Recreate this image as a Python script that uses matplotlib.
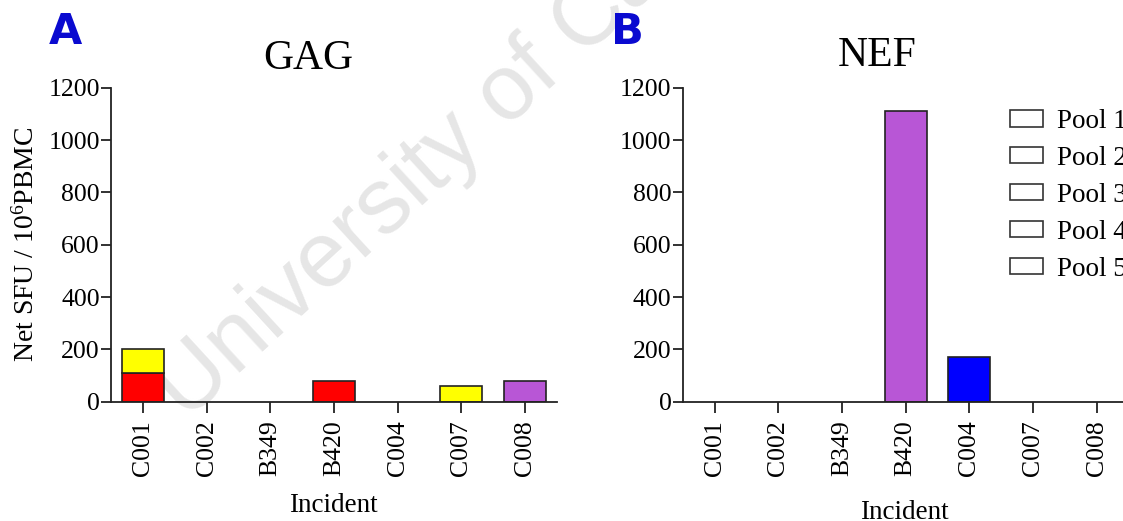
import numpy as np
from matplotlib import pyplot as plt
from matplotlib.patches import Patch

plt.rcParams['font.family'] = ['Liberation Serif', 'DejaVu Serif']
plt.rcParams['mathtext.default'] = 'regular'

incidents = ['C001', 'C002', 'B349', 'B420', 'C004', 'C007', 'C008']
pools = ['Pool 1', 'Pool 2', 'Pool 3', 'Pool 4', 'Pool 5']
pool_colors = ['#ff0000', '#00b050', '#ffff00', '#0000ff', '#b856d6']

# net SFU per 10^6 PBMC, one list per peptide pool
gag_pool1 = [110, 0, 0, 80, 0, 0, 0]
gag_pool2 = [0, 0, 0, 0, 0, 0, 0]
gag_pool3 = [90, 0, 0, 0, 0, 60, 0]
gag_pool4 = [0, 0, 0, 0, 0, 0, 0]
gag_pool5 = [0, 0, 0, 0, 0, 0, 80]

nef_pool1 = [0, 0, 0, 0, 0, 0, 0]
nef_pool2 = [0, 0, 0, 0, 0, 0, 0]
nef_pool3 = [0, 0, 0, 0, 0, 0, 0]
nef_pool4 = [0, 0, 0, 0, 170, 0, 0]
nef_pool5 = [0, 0, 0, 1110, 0, 0, 0]

gag = [gag_pool1, gag_pool2, gag_pool3, gag_pool4, gag_pool5]
nef = [nef_pool1, nef_pool2, nef_pool3, nef_pool4, nef_pool5]

W, H = 1123, 521
fig = plt.figure(figsize=(W / 100, H / 100), dpi=100)

# faint watermark, drawn underneath the axes
fig.text(186 / W, 1 - 422 / H, 'University of Cape Town', family='Liberation Sans',
         fontsize=67, color='#e6e6e6', rotation=42.5, rotation_mode='anchor',
         ha='left', va='baseline', zorder=-1)


def stacked(ax, series):
    x = np.arange(len(incidents))
    bottom = np.zeros(len(incidents))
    for vals, col in zip(series, pool_colors):
        vals = np.array(vals, dtype=float)
        m = vals > 0
        ax.bar(x[m], vals[m], bottom=bottom[m], width=0.66, color=col,
               edgecolor='#222222', linewidth=1.2, zorder=3)
        bottom += vals
    ax.set_xlim(-0.5, 6.5)
    ax.set_ylim(0, 1200)
    ax.set_yticks(range(0, 1201, 200))
    ax.set_xticks(x)
    ax.set_xticklabels(incidents, rotation=90)
    ax.spines['top'].set_visible(False)
    ax.spines['right'].set_visible(False)
    for s in ['left', 'bottom']:
        ax.spines[s].set_linewidth(1.3)
        ax.spines[s].set_color('#222222')
    ax.spines['bottom'].set_zorder(4)
    ax.tick_params(axis='y', direction='out', length=7, width=1.3, pad=1,
                   labelsize=18.5, color='#222222')
    ax.tick_params(axis='x', direction='out', length=8, width=1.3, pad=5,
                   labelsize=18.5, color='#222222')
    ax.patch.set_alpha(0)


axA = fig.add_axes([111 / W, 1 - 401.7 / H, 446 / W, 314 / H])
stacked(axA, gag)
axA.set_ylabel('Net SFU / 10$^{6}$PBMC', fontsize=20)
axA.yaxis.set_label_coords(-0.16, 0.5)
axA.set_xlabel('Incident', fontsize=19.5)
axA.xaxis.set_label_coords(0.498, -0.29)

axB = fig.add_axes([682.7 / W, 1 - 401.7 / H, 446 / W, 314 / H])
stacked(axB, nef)
axB.set_xlabel('Incident', fontsize=19.5)
axB.xaxis.set_label_coords(0.496, -0.313)

fig.text(308 / W, 1 - 59 / H, 'GAG', fontsize=30, ha='center', va='center')
fig.text(877 / W, 1 - 56 / H, 'NEF', fontsize=30, ha='center', va='center')

fig.text(65 / W, 1 - 32 / H, 'A', family='DejaVu Sans', fontweight='bold',
         fontsize=31, color='#0a0ad0', ha='center', va='center')
fig.text(627 / W, 1 - 32 / H, 'B', family='DejaVu Sans', fontweight='bold',
         fontsize=31, color='#0a0ad0', ha='center', va='center')

handles = [Patch(facecolor='white', edgecolor='#333333', linewidth=1.2) for p in pools]
fig.legend(handles, pools, loc='upper left', bbox_to_anchor=(1010 / W, 1 - 109 / H),
           frameon=False, fontsize=19.5, handlelength=1.2, handleheight=0.55,
           handletextpad=0.55, labelspacing=0.44, borderpad=0, borderaxespad=0)

plt.savefig('out.png', dpi=100)
